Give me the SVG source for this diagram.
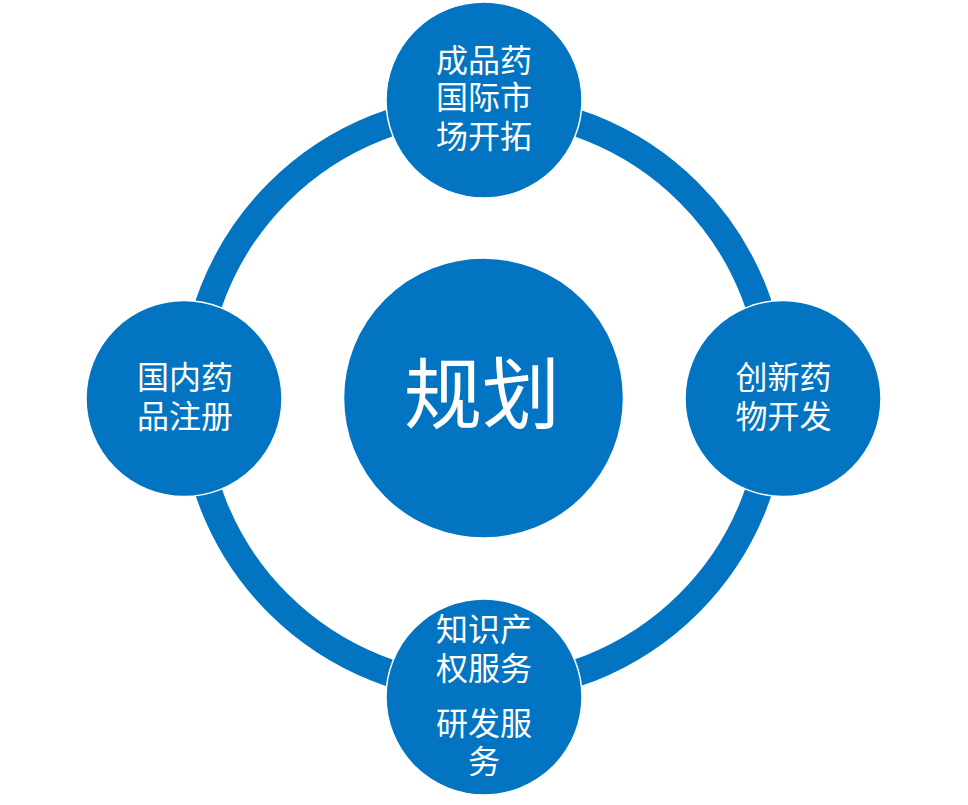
<svg xmlns="http://www.w3.org/2000/svg" width="968" height="805" viewBox="0 0 968 805">
<style>
.node{fill:#0274C1;stroke:#ffffff;stroke-width:1.5}
.lbl{fill:#ffffff;font-family:"Noto Sans CJK SC","Noto Sans CJK TC",sans-serif;font-size:32px;text-anchor:middle}
.big{font-size:78px}
</style>
<rect width="968" height="805" fill="#ffffff"/>
<g id="connectors">
<circle cx="483.5" cy="398" r="290.5" fill="none" stroke="#0274C1" stroke-width="27"/>
</g>
<g id="center">
<circle class="node" cx="483.5" cy="398" r="140"/>
<text class="lbl big" x="482" y="423">规划</text>
</g>
<g id="top">
<circle class="node" cx="484" cy="100" r="98"/>
<text class="lbl" x="484" y="72">成品药</text>
<text class="lbl" x="484" y="109">国际市</text>
<text class="lbl" x="484" y="148">场开拓</text>
</g>
<g id="left">
<circle class="node" cx="184" cy="398.5" r="98"/>
<text class="lbl" x="185" y="389">国内药</text>
<text class="lbl" x="185" y="428">品注册</text>
</g>
<g id="right">
<circle class="node" cx="783" cy="398.5" r="98"/>
<text class="lbl" x="783.5" y="389">创新药</text>
<text class="lbl" x="783.5" y="428">物开发</text>
</g>
<g id="bottom">
<circle class="node" cx="484" cy="697" r="98"/>
<text class="lbl" x="484" y="641">知识产</text>
<text class="lbl" x="484" y="680">权服务</text>
<text class="lbl" x="484" y="735">研发服</text>
<text class="lbl" x="484" y="773">务</text>
</g>
</svg>
